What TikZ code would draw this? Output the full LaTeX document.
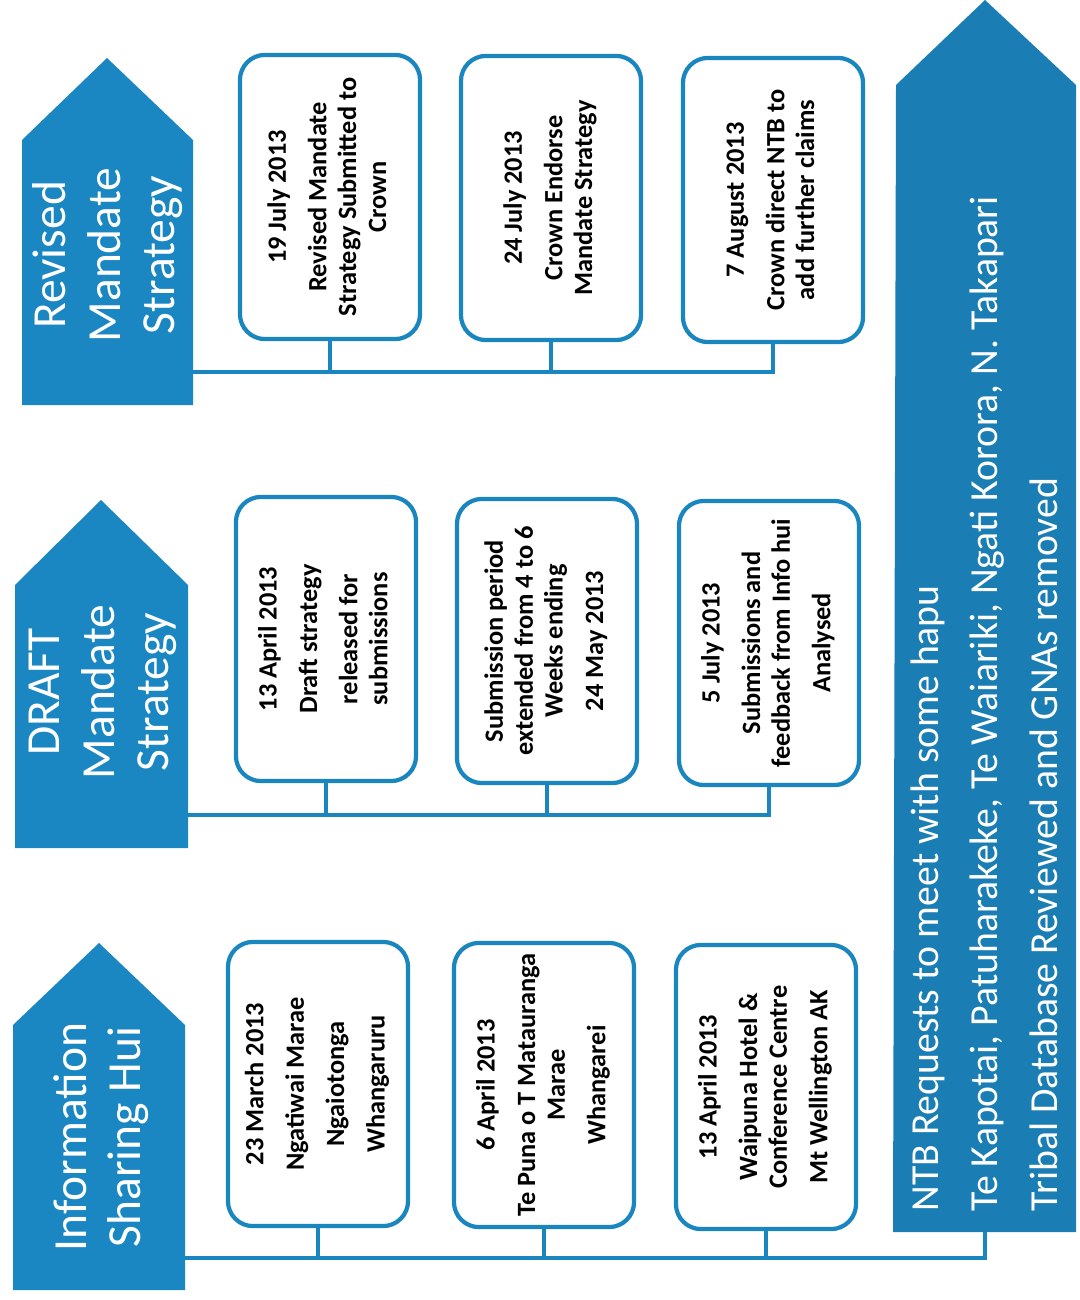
\documentclass[tikz,border=0pt]{standalone}
\usepackage{fontspec}
\setmainfont{Carlito}
\usepackage{graphicx}
\definecolor{phaseblue}{RGB}{27,135,194}
\definecolor{ntbblue}{RGB}{26,126,180}
\definecolor{lineblue}{RGB}{26,134,192}
\newcommand{\uptext}[1]{\rotatebox{90}{\begin{tabular}{@{}c@{}}#1\end{tabular}}}
\begin{document}
\begin{tikzpicture}[x=0.01cm,y=-0.01cm,
  event/.style={draw=lineblue,line width=1.2pt,rounded corners=2.5mm,fill=white,
    minimum width=1.8cm,minimum height=2.84cm,inner sep=0pt,
    font=\fontsize{7.5}{8.5}\selectfont\bfseries},
  phase label/.style={text=white,rotate=90,align=center,font=\fontsize{13.5}{15.5}\selectfont},
  link/.style={draw=lineblue,line width=1.2pt}]
  \useasboundingbox (0,0) rectangle (1080,1300);

  % phase arrows
  \fill[phaseblue] (22,405) -- (22,140) -- (107,58) -- (193,140) -- (193,405) -- cycle;
  \fill[phaseblue] (15,848) -- (15,585) -- (101,500) -- (188,585) -- (188,848) -- cycle;
  \fill[phaseblue] (13,1290) -- (13,1025) -- (99,943) -- (185,1025) -- (185,1290) -- cycle;
  \fill[ntbblue] (893,1232) -- (896,85) -- (985,0) -- (1076,85) -- (1076,1232) -- cycle;

  \node[phase label] (rms) at (108,255) {Revised\\Mandate\\Strategy};
  \node[phase label] (dms) at (103,692) {DRAFT\\Mandate\\Strategy};
  \node[phase label] (ish) at (101,1137) {Information\\Sharing Hui};
  \node[text=white,rotate=90,anchor=north west,align=left,
    font=\fontsize{11.3}{17}\selectfont] (ntb) at (898,1224)
    {NTB Requests to meet with some hapu\\
     Te Kapotai, Patuharakeke, Te Waiariki, Ngati Korora, N. Takapari\\
     Tribal Database Reviewed and GNAs removed};

  % events
  \node[event] (b11) at (330,197) {\uptext{19 July 2013\\[3pt]Revised Mandate\\Strategy Submitted to\\Crown}};
  \node[event] (b12) at (551,198) {\uptext{24 July 2013\\[3pt]Crown Endorse\\Mandate Strategy}};
  \node[event] (b13) at (773,200) {\uptext{7 August 2013\\[3pt]Crown direct NTB to\\add further claims}};

  \node[event] (b21) at (326,639) {\uptext{13 April 2013\\[3pt]Draft strategy\\[3pt]released for\\submissions}};
  \node[event] (b22) at (547,641) {\uptext{Submission period\\extended from 4 to 6\\Weeks ending\\[3pt]24 May 2013}};
  \node[event] (b23) at (769,643) {\uptext{5 July 2013\\[3pt]Submissions and\\feedback from Info hui\\[3pt]Analysed}};

  \node[event] (b31) at (318,1084) {\uptext{23 March 2013\\[3pt]Ngatiwai Marae\\[3pt]Ngaiotonga\\[3pt]Whangaruru}};
  \node[event] (b32) at (544,1085) {\uptext{6 April 2013\\[3pt]Te Puna o T Matauranga\\Marae\\[3pt]Whangarei}};
  \node[event] (b33) at (766,1087) {\uptext{13 April 2013\\[3pt]Waipuna Hotel \&\\Conference Centre\\[3pt]Mt Wellington AK}};

  % connectors
  \coordinate (h1) at (193,372);
  \coordinate (h2) at (188,815);
  \coordinate (h3) at (185,1258);
  \coordinate (ntbfoot) at (985,1232);

  \draw[link] (h1) -| (b13);
  \draw[link] (h2) -| (b23);
  \draw[link] (h3) -| (ntbfoot);
  \foreach \b in {b11,b12} \draw[link] (\b) -- (\b |- h1);
  \foreach \b in {b21,b22} \draw[link] (\b) -- (\b |- h2);
  \foreach \b in {b31,b32,b33} \draw[link] (\b) -- (\b |- h3);
\end{tikzpicture}
\end{document}
